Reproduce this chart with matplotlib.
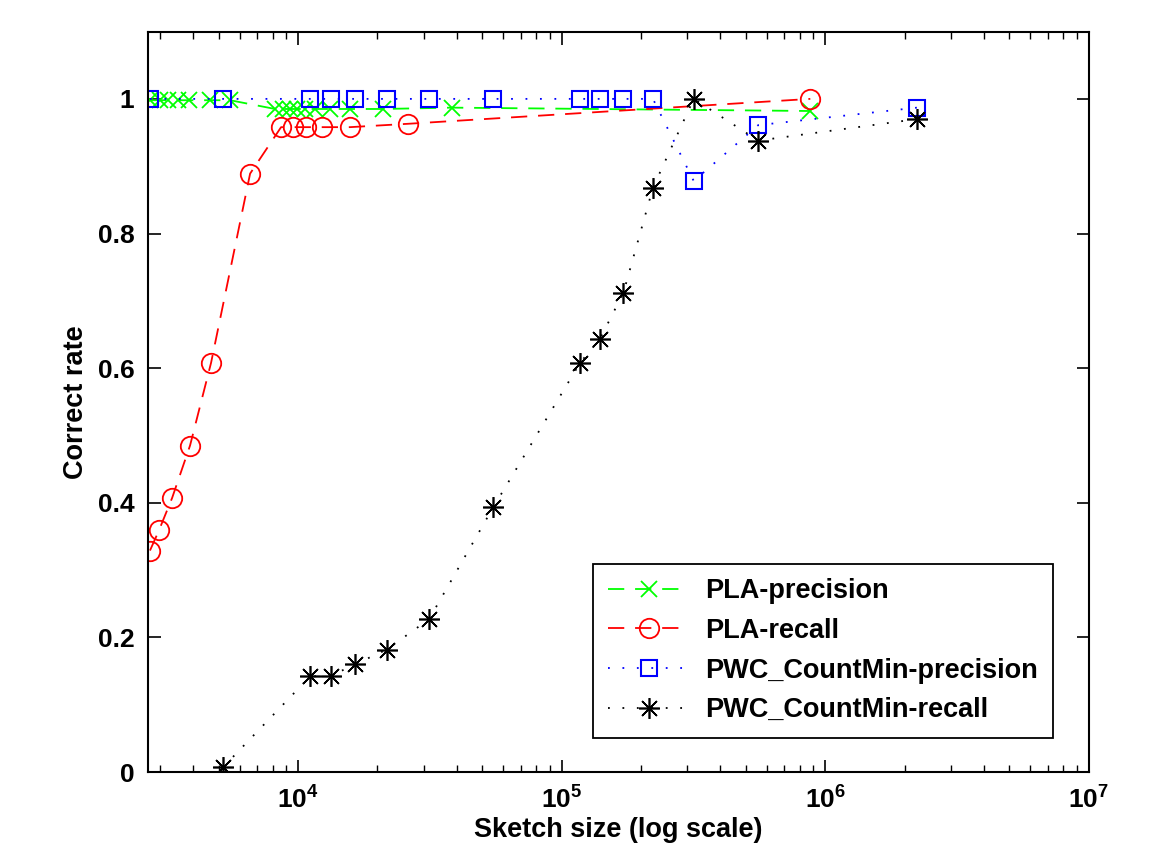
import matplotlib
matplotlib.use("Agg")
import matplotlib.pyplot as plt
from matplotlib.ticker import LogLocator, FixedLocator, NullFormatter

plt.rcParams['font.family'] = ['Liberation Sans', 'DejaVu Sans']
plt.rcParams['font.weight'] = 'bold'
plt.rcParams['mathtext.fontset'] = 'custom'
plt.rcParams['mathtext.rm'] = 'Liberation Sans:bold'
plt.rcParams['mathtext.it'] = 'Liberation Sans:bold'
plt.rcParams['mathtext.bf'] = 'Liberation Sans:bold'

# PLA precision
pla_prec_x = [2742, 2990, 3212, 3506, 3858, 4635, 5520, 8182, 8771, 9325, 9913,
              10630, 11600, 13220, 15740, 21030, 38390, 877700]
pla_prec_y = [0.998, 0.998, 0.998, 0.998, 0.998, 0.998, 0.998, 0.985, 0.985, 0.985,
              0.985, 0.985, 0.985, 0.985, 0.985, 0.985, 0.987, 0.982]

# PLA recall
pla_rec_x = [2742, 2966, 3326, 3891, 4676, 6576, 8620, 9560, 10720, 12330, 15740,
             26140, 877700]
pla_rec_y = [0.329, 0.359, 0.407, 0.485, 0.608, 0.889, 0.958, 0.958, 0.958, 0.958,
             0.958, 0.963, 1.0]

# PWC_CountMin precision
pwc_prec_x = [2742, 5190, 11100, 13350, 16450, 21700, 31400, 54950, 117500, 140000,
              171500, 222000, 317000, 556800, 2230000]
pwc_prec_y = [1.0, 1.0, 1.0, 1.0, 1.0, 1.0, 1.0, 1.0, 1.0, 1.0, 1.0, 1.0, 0.878,
              0.961, 0.987]

# PWC_CountMin recall
pwc_rec_x = [5190, 11100, 13350, 16450, 21700, 31400, 54950, 117500, 140000,
             171500, 222000, 317000, 556800, 2230000]
pwc_rec_y = [0.007, 0.142, 0.143, 0.160, 0.182, 0.227, 0.393, 0.608, 0.644, 0.712,
             0.868, 1.0, 0.938, 0.970]

y_ticks = [0, 0.2, 0.4, 0.6, 0.8, 1]
y_labels = ['0', '0.2', '0.4', '0.6', '0.8', '1']

fig = plt.figure(figsize=(11.67, 8.65), dpi=100)
ax = fig.add_axes([0.127, 0.1075, 0.806, 0.856])

ax.plot(pla_prec_x, pla_prec_y, color='#00ff00', linestyle=(0, (9, 6)), linewidth=1.3,
        marker='x', markersize=11, markeredgewidth=1.3, label='PLA-precision')
ax.plot(pla_rec_x, pla_rec_y, color='#ff0000', linestyle=(0, (9, 6)), linewidth=1.3,
        marker='o', markersize=14, markerfacecolor='none', markeredgewidth=1.3,
        label='PLA-recall')
ax.plot(pwc_prec_x, pwc_prec_y, color='#0000ff', linestyle=(0, (1, 7)), linewidth=1.3,
        marker='s', markersize=11, markerfacecolor='none', markeredgewidth=1.5,
        label='PWC_CountMin-precision')
ax.plot(pwc_rec_x, pwc_rec_y, color='black', linestyle=(0, (1, 7)), linewidth=1.3,
        marker=(8, 2, 0), markersize=15, markeredgewidth=1.2,
        label='PWC_CountMin-recall')

ax.set_xscale('log')
ax.set_xlim(2700, 1e7)
ax.set_ylim(0, 1.1)
ax.xaxis.set_major_locator(LogLocator(base=10, numticks=10))
ax.xaxis.set_minor_locator(LogLocator(base=10, subs=range(2, 10), numticks=10))
ax.xaxis.set_minor_formatter(NullFormatter())
ax.yaxis.set_major_locator(FixedLocator(y_ticks))
ax.set_yticklabels(y_labels)

ax.tick_params(which='both', direction='in', top=True, right=True, labelsize=19)
ax.tick_params(which='major', length=9, width=1.2, pad=10)
ax.tick_params(which='minor', length=5, width=1)
for s in ax.spines.values():
    s.set_linewidth(1.5)

ax.set_xlabel('Sketch size (log scale)', fontsize=19.5, fontweight='bold', labelpad=3)
ax.set_ylabel('Correct rate', fontsize=19.5, fontweight='bold', labelpad=6)

leg = ax.legend(loc='lower right', bbox_to_anchor=(0.962, 0.046), borderaxespad=0,
                fontsize=19.5, numpoints=1, handlelength=3.0, handletextpad=0.6,
                fancybox=False, framealpha=1, edgecolor='black', borderpad=0.55,
                labelspacing=0.5)
leg.get_frame().set_linewidth(1.3)

fig.savefig('out.png', dpi=100)
